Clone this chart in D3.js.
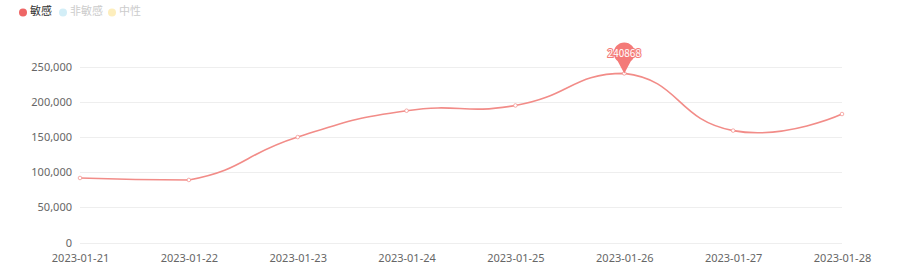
<!DOCTYPE html>
<html>
<head>
<meta charset="utf-8">
<script src="https://cdn.jsdelivr.net/npm/d3@7/dist/d3.min.js"></script>
<style>
  body { margin: 0; background: #fff; }
  svg { display: block; font-family: "Microsoft YaHei", "Noto Sans CJK SC", "DejaVu Sans", sans-serif; }
</style>
</head>
<body>
<div id="container"></div>
<script>
// data
var dates = ["2023-01-21", "2023-01-22", "2023-01-23", "2023-01-24", "2023-01-25", "2023-01-26", "2023-01-27", "2023-01-28"];
var sensitive = [91900, 89100, 150200, 187700, 195200, 240868, 159400, 183000];
var yTicks = [0, 50000, 100000, 150000, 200000, 250000];
var legendNames = ["敏感", "非敏感", "中性"];
var legendColors = ["#ee6666", "#d3eef7", "#fdeebd"];
var legendTextColors = ["#333", "#ccc", "#ccc"];

var width = 900, height = 275;
var margin = {left: 80, right: 58, top: 67, bottom: 32.5};
var lineColor = "#f28c88";
var pinColor = "#f47a78";

var svg = d3.select("#container")
    .append("svg")
    .attr("width", width)
    .attr("height", height);

var x = d3.scalePoint()
    .domain(dates)
    .range([margin.left, width - margin.right]);

var y = d3.scaleLinear()
    .domain([0, 250000])
    .range([height - margin.bottom, margin.top]);

// grid lines
svg.append("g")
    .selectAll("line")
    .data(yTicks)
    .enter()
    .append("line")
    .attr("x1", margin.left)
    .attr("x2", width - margin.right)
    .attr("y1", d => Math.round(y(d)) + 0.5)
    .attr("y2", d => Math.round(y(d)) + 0.5)
    .attr("stroke", "#eeeeee")
    .attr("stroke-width", 1);

// y axis labels
var yAxis = d3.axisLeft(y)
    .tickValues(yTicks)
    .tickSize(0)
    .tickPadding(8)
    .tickFormat(d3.format(","));
svg.append("g")
    .attr("transform", "translate(" + margin.left + ",0)")
    .call(yAxis)
    .call(g => g.select(".domain").remove())
    .call(g => g.selectAll("text")
        .attr("fill", "#666")
        .style("font-size", "11px")
        .style("font-family", "\"Microsoft YaHei\", \"Noto Sans\", sans-serif"));

// x axis labels
var xAxis = d3.axisBottom(x)
    .tickSize(0)
    .tickPadding(12);
svg.append("g")
    .attr("transform", "translate(0," + (height - margin.bottom) + ")")
    .call(xAxis)
    .call(g => g.select(".domain").remove())
    .call(g => g.selectAll("text")
        .attr("fill", "#666")
        .style("font-size", "11px")
        .style("font-family", "\"Microsoft YaHei\", \"Noto Sans\", sans-serif"));

// smooth line, control points kept inside the bounding box of all points
function smoothPath(pts, smooth) {
    var p = d3.path();
    var minX = d3.min(pts, d => d[0]), maxX = d3.max(pts, d => d[0]);
    var minY = d3.min(pts, d => d[1]), maxY = d3.max(pts, d => d[1]);
    var clamp = c => [Math.max(minX, Math.min(maxX, c[0])), Math.max(minY, Math.min(maxY, c[1]))];
    var n = pts.length;
    p.moveTo(pts[0][0], pts[0][1]);
    var cp0 = pts[0].slice();
    for (var i = 1; i < n; i++) {
        var cur = pts[i], cp1, nextCp0;
        if (i === n - 1) {
            cp1 = cur.slice();
            nextCp0 = cur.slice();
        } else {
            var prev = pts[i - 1], next = pts[i + 1];
            var vx = next[0] - prev[0], vy = next[1] - prev[1];
            var d0 = Math.hypot(cur[0] - prev[0], cur[1] - prev[1]);
            var d1 = Math.hypot(next[0] - cur[0], next[1] - cur[1]);
            var r = d1 / (d0 + d1);
            cp1 = [cur[0] - vx * smooth * (1 - r), cur[1] - vy * smooth * (1 - r)];
            nextCp0 = [cur[0] + vx * smooth * r, cur[1] + vy * smooth * r];
        }
        var a = clamp(cp0), b = clamp(cp1);
        p.bezierCurveTo(a[0], a[1], b[0], b[1], cur[0], cur[1]);
        cp0 = nextCp0;
    }
    return p.toString();
}

var pts = sensitive.map((d, i) => [x(dates[i]), y(d)]);
svg.append("path")
    .attr("d", smoothPath(pts, 0.5))
    .attr("fill", "none")
    .attr("stroke", lineColor)
    .attr("stroke-width", 1.6);

// points
svg.append("g")
    .selectAll("circle")
    .data(sensitive)
    .enter()
    .append("circle")
    .attr("cx", (d, i) => x(dates[i]))
    .attr("cy", d => y(d))
    .attr("r", 1.8)
    .attr("fill", "#fff")
    .attr("stroke", lineColor)
    .attr("stroke-opacity", 0.7)
    .attr("stroke-width", 1);

// mark point (max)
var maxIdx = d3.maxIndex(sensitive);
var px = x(dates[maxIdx]), py = y(sensitive[maxIdx]);
var pinR = 10.5, pinH = 31;
var pin = svg.append("g").attr("transform", "translate(" + px + "," + py + ")");
var cy = -pinH + pinR;
pin.append("path")
    .attr("d", "M0,0 L" + (-pinR * 0.62) + "," + (cy + pinR * 0.79) +
        " A" + pinR + "," + pinR + " 0 1 1 " + (pinR * 0.62) + "," + (cy + pinR * 0.79) + " Z")
    .attr("fill", pinColor);
pin.append("text")
    .attr("x", 0)
    .attr("y", cy + 1)
    .attr("text-anchor", "middle")
    .attr("dominant-baseline", "middle")
    .attr("fill", "#fff")
    .attr("stroke", pinColor)
    .attr("stroke-width", 2)
    .attr("paint-order", "stroke")
    .style("font-size", "10px")
    .text(sensitive[maxIdx]);

// legend
var legendX = [23, 63, 112];
var leg = svg.append("g")
    .selectAll("g")
    .data(legendNames)
    .enter()
    .append("g")
    .attr("transform", (d, i) => "translate(" + legendX[i] + ",12.5)");
leg.append("circle")
    .attr("r", 4)
    .attr("fill", (d, i) => legendColors[i]);
leg.append("text")
    .attr("x", 7)
    .attr("y", 0)
    .attr("dominant-baseline", "middle")
    .attr("fill", (d, i) => legendTextColors[i])
    .style("font-size", "11px")
    .text(d => d);
</script>
</body>
</html>
